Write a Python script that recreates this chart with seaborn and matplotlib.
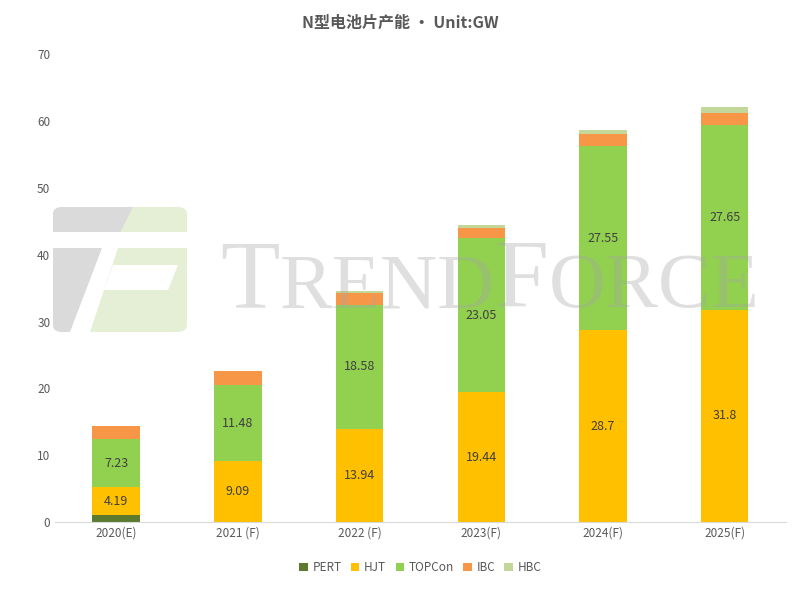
import numpy as np
import matplotlib
matplotlib.use('Agg')
import matplotlib.pyplot as plt
import seaborn as sns
from matplotlib.patches import FancyBboxPatch, Polygon

sns.set_style('white')
plt.rcParams['font.family'] = ['Noto Sans CJK SC', 'DejaVu Sans']

# data
years = ['2020(E)', '2021 (F)', '2022 (F)', '2023(F)', '2024(F)', '2025(F)']
pert = [1.0, 0, 0, 0, 0, 0]
hjt = [4.19, 9.09, 13.94, 19.44, 28.7, 31.8]
topcon = [7.23, 11.48, 18.58, 23.05, 27.55, 27.65]
ibc = [2.0, 2.0, 1.8, 1.5, 1.8, 1.8]
hbc = [0, 0, 0.2, 0.5, 0.6, 0.9]

series = [('PERT', pert, '#5B7A2E'),
          ('HJT', hjt, '#FFC000'),
          ('TOPCon', topcon, '#92D050'),
          ('IBC', ibc, '#F79646'),
          ('HBC', hbc, '#C4D79B')]

W, H = 800, 590
fig = plt.figure(figsize=(8, 5.9), dpi=100)
ax = fig.add_axes([0.069, 0.115, 0.913, 0.793])

bottom = np.zeros(len(years))
for name, vals, col in series:
    sns.barplot(x=years, y=vals, bottom=bottom, color=col, width=0.39, saturation=1,
                ax=ax, label=name, linewidth=0, zorder=2)
    if name in ('HJT', 'TOPCon'):
        for i, v in enumerate(vals):
            ax.text(i, bottom[i] + v / 2, f'{v:g}', ha='center', va='center',
                    fontsize=9, color='#404040', zorder=3)
    bottom = bottom + np.array(vals)

ax.set_ylim(0, 70)
ax.set_yticks(range(0, 71, 10))
ax.set_xlim(-0.5, 5.5)
ax.tick_params(axis='both', labelsize=8.5, colors='#595959', length=0)
for s in ['top', 'right', 'left']:
    ax.spines[s].set_visible(False)
ax.spines['bottom'].set_color('#D9D9D9')
ax.patch.set_alpha(0)
ax.set_xlabel('')
ax.set_ylabel('')

fig.suptitle('N型电池片产能 · Unit:GW', y=0.975, fontsize=11.5, color='#595959',
             fontweight='bold')

ax.legend(loc='upper center', bbox_to_anchor=(0.5, -0.06), ncol=5, frameon=False,
          fontsize=8.5, handlelength=0.7, handleheight=0.7, columnspacing=0.8,
          handletextpad=0.4, labelcolor='#595959')


# watermark (pixel coords from the top-left corner)
def px(pts):
    return [(x / W, 1 - y / H) for x, y in pts]


box = FancyBboxPatch((53 / W, 1 - 332 / H), 134 / W, 125 / H,
                     boxstyle='round,pad=0,rounding_size=0.012',
                     transform=fig.transFigure, facecolor='#E4EFD6', edgecolor='none', zorder=1)
fig.patches.append(box)
shapes = [
    (px([(53, 207), (133, 207), (70, 332), (53, 332)]), '#DADADA'),
    (px([(53, 232), (187, 232), (187, 248), (53, 248)]), 'white'),
    (px([(102, 248), (118, 248), (90, 332), (70, 332)]), 'white'),
    (px([(113, 265), (178, 265), (168, 290), (104, 290)]), 'white'),
]
for pts, col in shapes:
    p = Polygon(pts, closed=True, transform=fig.transFigure, facecolor=col,
                edgecolor='none', zorder=1.1)
    p.set_clip_path(box)
    fig.patches.append(p)

renderer = fig.canvas.get_renderer()
x0 = 220 / W
for part, size in [('T', 70), ('REND', 57), ('F', 70), ('ORCE', 57)]:
    t = fig.text(x0, 1 - 307 / H, part, fontsize=size, family='Liberation Serif',
                 color='#A6A6A6', alpha=0.35, ha='left', va='baseline', zorder=5)
    bb = t.get_window_extent(renderer)
    x0 += bb.width / W

fig.savefig('out.png')
